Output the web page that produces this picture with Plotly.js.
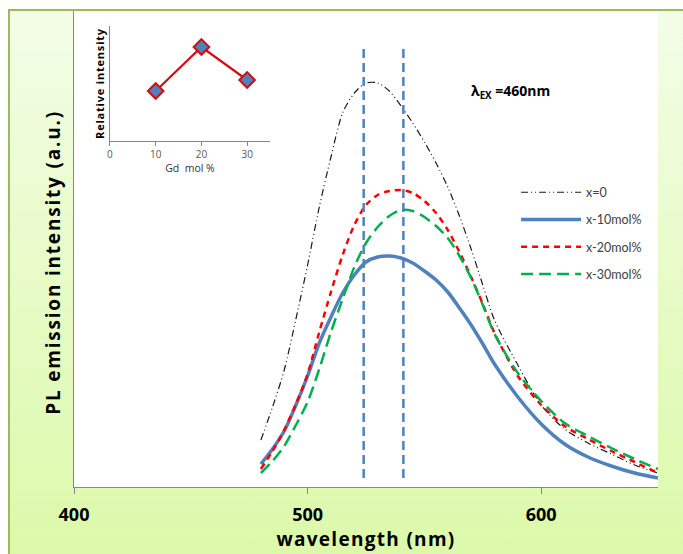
<!DOCTYPE html>
<html>
<head>
<meta charset="utf-8">
<script src="https://cdn.plot.ly/plotly-3.0.1.min.js"></script>
<style>
  html, body { margin:0; padding:0; background:#ffffff; overflow:hidden; }
  #wrap { position:relative; width:683px; height:554px; }
  #bg { position:absolute; left:8px; top:9px; width:700px; height:560px;
        border-left:2px solid #9bbb59; border-top:2px solid #9bbb59;
        background:linear-gradient(to bottom, #f3fde7 0%, #e8fbc9 45%, #dbf9a8 100%); }
  #chart { position:absolute; left:0; top:0; width:683px; height:554px; }
  #chart .ytitle { letter-spacing:1.8px; }
  #chart .xtitle { letter-spacing:1.3px; }
  #chart .y2title { letter-spacing:0.8px; }
</style>
</head>
<body>
<div id="wrap"><div id="bg"></div><div id="chart"></div></div>
<script>
// ---- data ----
var wavelength = [480,485,490,495,500,505,510,515,520,525,530,535,540,545,550,555,560,565,570,575,580,590,600,610,620,630,640,650];
var x0     = [47, 80,117,168,222,280,330,374,394,404,404,396,381,364,345,324,300,271,238,202,167,122, 82, 58, 44, 33, 22, 14];
var x10mol = [23, 38, 56, 82,111,144,170,194,212,225,230,231,229,224,216,207,195,179,162,143,123, 90, 63, 43, 30, 21, 14,  9];
var x20mol = [18, 36, 57, 83,113,155,195,232,262,282,292,296,297,294,286,274,257,235,210,183,154,111, 82, 61, 48, 36, 25, 14];
var x30mol = [14, 26, 41, 62, 85,118,155,188,220,244,260,271,277,276,270,261,249,231,209,182,153,114, 86, 64, 51, 39, 28, 18];
var seriesNames = ['x=0','x-10mol%','x-20mol%','x-30mol%'];
var peakLines = [524, 541];           // nm, vertical dashed markers
var xTicks = [400, 500, 600];
var gdMol = [10, 20, 30];
var relIntensity = [50, 94, 61];
var insetTicks = [0, 10, 20, 30];

var F = 'Lato, "Open Sans", sans-serif';
var FB = '"Open Sans", Lato, sans-serif';

var styles = [
  {color:'#1a1a1a', width:1.2, dash:'7px,3px,1px,3px,1px,3px'},
  {color:'#4f81bd', width:3.5, dash:'solid'},
  {color:'#ff0000', width:2.5, dash:'6px,5px'},
  {color:'#00b050', width:2.5, dash:'12px,6px'}
];
var ys = [x0, x10mol, x20mol, x30mol];
var traces = ys.map(function(y, i){
  return {x: wavelength, y: y, type:'scatter', mode:'lines', name: seriesNames[i],
          legendgroup:'g'+i, line:{color:styles[i].color, width:styles[i].width, dash:styles[i].dash, shape:'spline', smoothing:0.8},
          xaxis:'x', yaxis:'y', cliponaxis:true};
});
traces.push({x: gdMol, y: relIntensity, type:'scatter', mode:'lines+markers', showlegend:false,
  xaxis:'x2', yaxis:'y2',
  line:{color:'#d01010', width:2.2},
  marker:{symbol:'diamond', size:12, color:'#4f81bd', line:{color:'#d01010', width:2}}});

var shapes = peakLines.map(function(p){
  return {type:'line', xref:'x', yref:'y', x0:p, x1:p, y0:9, y1:442,
          line:{color:'#4f81bd', width:2.5, dash:'9px,5px'}};
});

var layout = {
  width:683, height:554,
  margin:{l:74, r:25, t:11, b:67, autoexpand:false},
  paper_bgcolor:'rgba(0,0,0,0)',
  plot_bgcolor:'#ffffff',
  font:{family:F, color:'#000'},
  showlegend:true,
  legend:{x:0.757, y:0.65, xanchor:'left', yanchor:'top', bgcolor:'rgba(0,0,0,0)',
          font:{family:F, size:12.5, color:'#404040'}, tracegroupgap:8, itemwidth:60},
  xaxis:{domain:[0,1], range:[400,650], tickvals:xTicks, ticks:'outside', ticklen:6, tickcolor:'#868686',
         showline:true, linecolor:'#868686', linewidth:1, showgrid:false, zeroline:false,
         tickfont:{family:FB, size:18, color:'#000', weight:'bold'}, ticklabelstandoff:5,
         title:{text:'<b>wavelength (nm)</b>', font:{family:FB, size:19, color:'#000'}, standoff:0}},
  yaxis:{domain:[0,1], range:[0,476], showticklabels:false, ticks:'', showline:true, linecolor:'#868686',
         linewidth:1, showgrid:false, zeroline:false,
         title:{text:'<b>PL emission intensity (a.u.)</b>&nbsp;&nbsp;&nbsp;&nbsp;', font:{family:FB, size:19, color:'#000'}, standoff:7}},
  xaxis2:{domain:[0.0616,0.3356], anchor:'y2', range:[0,35], tickvals:insetTicks, ticks:'outside', ticklen:4,
          tickcolor:'#868686', showline:true, linecolor:'#868686', showgrid:false, zeroline:false,
          tickfont:{family:FB, size:10, color:'#595959'},
          title:{text:'Gd  mol %', font:{family:FB, size:10.5, color:'#333'}, standoff:4}},
  yaxis2:{domain:[0.7269,0.9685], anchor:'x2', range:[0,115], showticklabels:false, ticks:'',
          showline:true, linecolor:'#868686', showgrid:false, zeroline:false,
          title:{text:'<b>Relative intensity</b>', font:{family:FB, size:11, color:'#000'}, standoff:2}},
  shapes: shapes,
  annotations:[{xref:'x', yref:'y', x:569, y:396, xanchor:'left', yanchor:'middle', showarrow:false,
    text:'<b>λ<sub>EX</sub> =460nm</b>', font:{family:FB, size:14, color:'#000'}}]
};

Plotly.newPlot('chart', traces, layout, {displayModeBar:false, staticPlot:true});
</script>
</body>
</html>
